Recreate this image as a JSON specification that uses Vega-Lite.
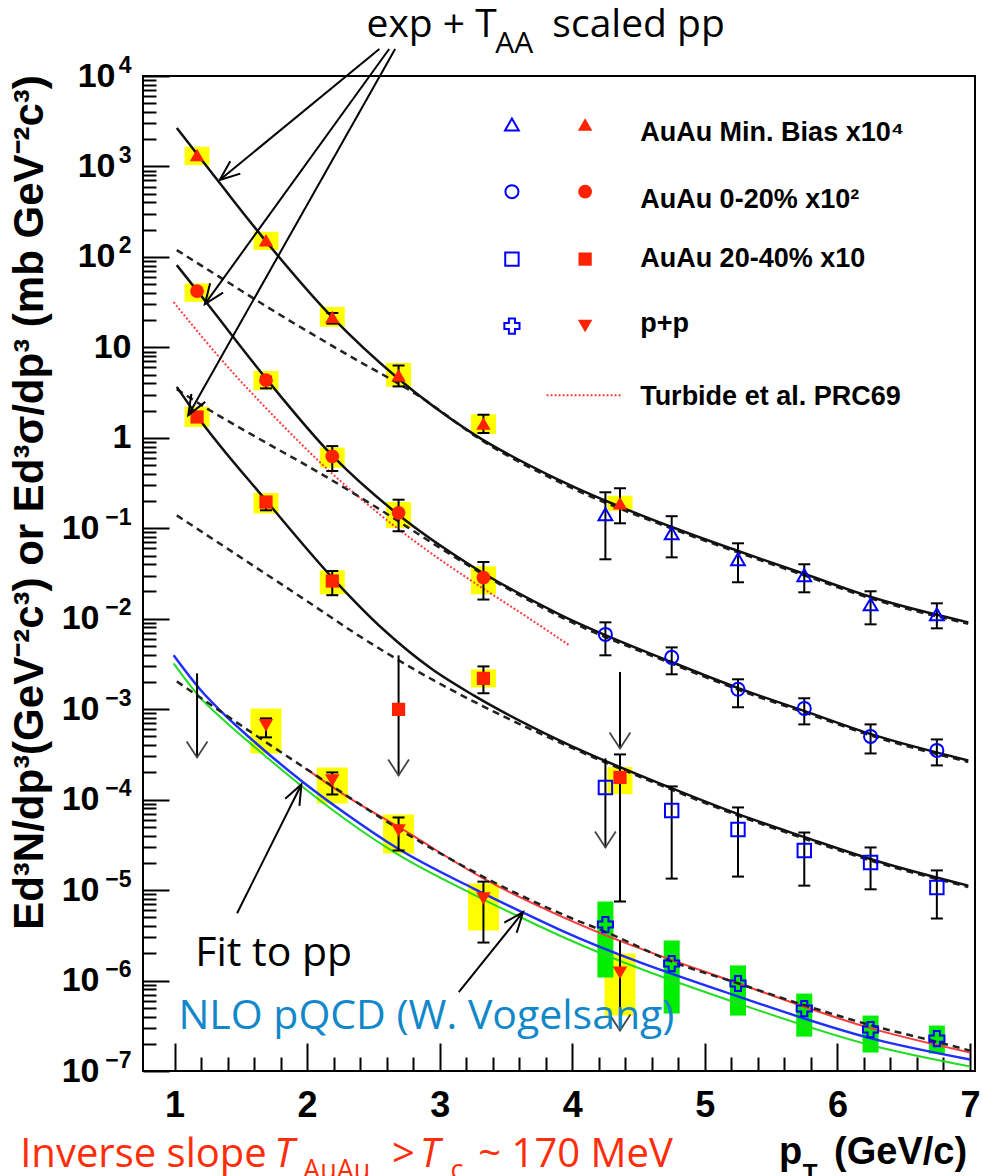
{
"$schema": "https://vega.github.io/schema/vega-lite/v6.json",
"width": 832, "height": 995,
"autosize": {"type": "none"},
"padding": {"left": 143, "top": 76, "right": 7, "bottom": 105},
"background": "#ffffff",
"config": {"view": {"stroke": "#000000", "strokeWidth": 2}, "point": {"opacity": 1}, "axis": {"grid": false}},
"datasets": {
"pts": [
{"s":"mb_red","x":1.17,"y":1337,"blo":1035,"bhi":1652},
{"s":"mb_red","x":1.69,"y":153,"blo":119,"bhi":190},
{"s":"mb_red","x":2.19,"y":21.7,"lo":18.3,"hi":24,"blo":16.9,"bhi":28},
{"s":"mb_red","x":2.69,"y":4.92,"lo":3.7,"hi":6.3,"blo":3.66,"bhi":6.73},
{"s":"mb_red","x":3.33,"y":1.44,"lo":1.13,"hi":1.8,"blo":1.1,"bhi":1.82},
{"s":"mb_red","x":4.36,"y":0.189,"lo":0.1135,"hi":0.277,"blo":0.156,"bhi":0.229},
{"s":"mb_blue","x":4.25,"y":0.143,"lo":0.0454,"hi":0.25},
{"s":"mb_blue","x":4.75,"y":0.0881,"lo":0.0477,"hi":0.136},
{"s":"mb_blue","x":5.25,"y":0.0454,"lo":0.0253,"hi":0.0682},
{"s":"mb_blue","x":5.75,"y":0.0302,"lo":0.0196,"hi":0.04},
{"s":"mb_blue","x":6.25,"y":0.0144,"lo":0.00867,"hi":0.0201},
{"s":"mb_blue","x":6.75,"y":0.0112,"lo":0.00783,"hi":0.0148},
{"s":"c_red","x":1.17,"y":41.9,"blo":31.9,"bhi":50.9},
{"s":"c_red","x":1.69,"y":4.34,"lo":3.52,"hi":4.73,"blo":3.37,"bhi":5.49},
{"s":"c_red","x":2.19,"y":0.625,"lo":0.43,"hi":0.81,"blo":0.469,"bhi":0.78},
{"s":"c_red","x":2.69,"y":0.148,"lo":0.0927,"hi":0.207,"blo":0.101,"bhi":0.195},
{"s":"c_red","x":3.33,"y":0.0284,"lo":0.0163,"hi":0.0424,"blo":0.0186,"bhi":0.038},
{"s":"c_blue","x":4.25,"y":0.00671,"lo":0.00394,"hi":0.00912},
{"s":"c_blue","x":4.75,"y":0.00374,"lo":0.00243,"hi":0.00482},
{"s":"c_blue","x":5.25,"y":0.00166,"lo":0.00105,"hi":0.00214},
{"s":"c_blue","x":5.75,"y":0.00102,"lo":0.000679,"hi":0.00132},
{"s":"c_blue","x":6.25,"y":0.0005,"lo":0.000324,"hi":0.000679},
{"s":"c_blue","x":6.75,"y":0.00035,"lo":0.000239,"hi":0.000463},
{"s":"s_red","x":1.17,"y":1.7,"blo":1.32,"bhi":2.2},
{"s":"s_red","x":1.69,"y":0.195,"lo":0.158,"hi":0.222,"blo":0.146,"bhi":0.246},
{"s":"s_red","x":2.19,"y":0.0261,"lo":0.0182,"hi":0.0337,"blo":0.0186,"bhi":0.0343},
{"s":"s_red","x":2.69,"y":0.000995},
{"s":"s_red","x":3.33,"y":0.00219,"lo":0.0015,"hi":0.00297,"blo":0.00174,"bhi":0.00275},
{"s":"s_red","x":4.36,"y":0.000176,"lo":7.48e-6,"hi":0.000316,"blo":0.000115,"bhi":0.000229},
{"s":"s_blue","x":4.25,"y":0.000136},
{"s":"s_blue","x":4.75,"y":7.6e-5,"lo":1.34e-5,"hi":0.00014},
{"s":"s_blue","x":5.25,"y":4.68e-5,"lo":1.41e-5,"hi":8.2e-5},
{"s":"s_blue","x":5.75,"y":2.74e-5,"lo":1.12e-5,"hi":4.33e-5},
{"s":"s_blue","x":6.25,"y":2.02e-5,"lo":1.02e-5,"hi":2.96e-5},
{"s":"s_blue","x":6.75,"y":1.07e-5,"lo":4.85e-6,"hi":1.65e-5},
{"s":"pp_red","x":1.69,"y":0.000662,"lo":0.000488,"hi":0.000791,"blo":0.000324,"bhi":0.00102},
{"s":"pp_red","x":2.19,"y":0.000163,"lo":0.000114,"hi":0.0002,"blo":9.08e-5,"bhi":0.000227},
{"s":"pp_red","x":2.69,"y":4.56e-5,"lo":2.74e-5,"hi":6.35e-5,"blo":2.54e-5,"bhi":6.86e-5},
{"s":"pp_red","x":3.33,"y":8.07e-6,"lo":2.63e-6,"hi":1.24e-5,"blo":3.57e-6,"bhi":1.18e-5},
{"s":"pp_red","x":4.36,"y":1.22e-6,"blo":4.1e-7,"bhi":1.99e-6},
{"s":"pp_blue","x":4.25,"y":4.16e-6,"blo":1.08e-6,"bhi":7.48e-6},
{"s":"pp_blue","x":4.75,"y":1.54e-6,"blo":4.32e-7,"bhi":2.77e-6},
{"s":"pp_blue","x":5.25,"y":9.27e-7,"blo":4.1e-7,"bhi":1.47e-6},
{"s":"pp_blue","x":5.75,"y":4.9e-7,"blo":2.4e-7,"bhi":7.18e-7},
{"s":"pp_blue","x":6.25,"y":2.87e-7,"blo":1.6e-7,"bhi":4.1e-7},
{"s":"pp_blue","x":6.75,"y":2.28e-7,"blo":1.56e-7,"bhi":3.18e-7},
{"s":"mb_blue","x":3.545,"y":2912},
{"s":"mb_red","x":4.097,"y":2912},
{"s":"c_blue","x":3.545,"y":526},
{"s":"c_red","x":4.097,"y":526},
{"s":"s_blue","x":3.545,"y":94.6},
{"s":"s_red","x":4.097,"y":94.6},
{"s":"pp_blue","x":3.545,"y":17.2},
{"s":"pp_red","x":4.097,"y":17.2}
],
"lim": [
{"x":1.17,"top":0.00249,"tip":0.000293},
{"x":2.69,"top":0.00394,"tip":0.000185},
{"x":4.36,"top":0.00258,"tip":0.000368},
{"x":4.25,"top":0.000286,"tip":2.96e-5},
{"x":4.36,"top":2.77e-6,"tip":2.8e-7}
],
"cur": [
{"c":"mb_fit","x":1.017,"y":2661},{"c":"mb_fit","x":1.341,"y":655},{"c":"mb_fit","x":1.664,"y":165.5},{"c":"mb_fit","x":2.187,"y":21.7},{"c":"mb_fit","x":2.684,"y":4.56},{"c":"mb_fit","x":3.256,"y":1.1},{"c":"mb_fit","x":3.903,"y":0.34},{"c":"mb_fit","x":4.754,"y":0.1026},{"c":"mb_fit","x":5.257,"y":0.0557},{"c":"mb_fit","x":5.759,"y":0.031},{"c":"mb_fit","x":6.26,"y":0.01725},{"c":"mb_fit","x":6.987,"y":0.00912},
{"c":"c_fit","x":1.017,"y":81.1},{"c":"c_fit","x":1.229,"y":32.9},{"c":"c_fit","x":1.689,"y":4.56},{"c":"c_fit","x":2.187,"y":0.643},{"c":"c_fit","x":2.684,"y":0.143},{"c":"c_fit","x":3.256,"y":0.0371},{"c":"c_fit","x":3.903,"y":0.0112},{"c":"c_fit","x":4.754,"y":0.0033},{"c":"c_fit","x":5.257,"y":0.0017},{"c":"c_fit","x":5.759,"y":0.000946},{"c":"c_fit","x":6.26,"y":0.000526},{"c":"c_fit","x":6.987,"y":0.000271},
{"c":"s_fit","x":1.017,"y":3.66},{"c":"s_fit","x":1.166,"y":1.78},{"c":"s_fit","x":1.689,"y":0.204},{"c":"s_fit","x":2.187,"y":0.0287},{"c":"s_fit","x":2.582,"y":0.00745},{"c":"s_fit","x":2.933,"y":0.00283},{"c":"s_fit","x":3.256,"y":0.00142},{"c":"s_fit","x":3.903,"y":0.000452},{"c":"s_fit","x":4.754,"y":0.000133},{"c":"s_fit","x":5.257,"y":6.86e-5},{"c":"s_fit","x":5.759,"y":3.82e-5},{"c":"s_fit","x":6.26,"y":2.18e-5},{"c":"s_fit","x":6.987,"y":1.12e-5},
{"c":"mb_taa","x":1.017,"y":119},{"c":"mb_taa","x":1.341,"y":59.8},{"c":"mb_taa","x":1.838,"y":21},{"c":"mb_taa","x":2.336,"y":7.8},{"c":"mb_taa","x":2.834,"y":2.96},{"c":"mb_taa","x":3.331,"y":0.912},{"c":"mb_taa","x":3.903,"y":0.323},{"c":"mb_taa","x":4.754,"y":0.0987},{"c":"mb_taa","x":5.257,"y":0.0536},{"c":"mb_taa","x":5.759,"y":0.0298},{"c":"mb_taa","x":6.26,"y":0.0166},{"c":"mb_taa","x":6.987,"y":0.00879},
{"c":"c_taa","x":1.017,"y":3.45},{"c":"c_taa","x":1.266,"y":2.02},{"c":"c_taa","x":1.59,"y":1.07},{"c":"c_taa","x":2.112,"y":0.395},{"c":"c_taa","x":2.51,"y":0.175},{"c":"c_taa","x":3.007,"y":0.0601},{"c":"c_taa","x":3.455,"y":0.024},{"c":"c_taa","x":3.903,"y":0.01063},{"c":"c_taa","x":4.754,"y":0.00317},{"c":"c_taa","x":5.257,"y":0.00163},{"c":"c_taa","x":5.759,"y":0.00091},{"c":"c_taa","x":6.26,"y":0.000507},{"c":"c_taa","x":6.987,"y":0.000261},
{"c":"s_taa","x":1.017,"y":0.139},{"c":"s_taa","x":1.515,"y":0.046},{"c":"s_taa","x":2.012,"y":0.0152},{"c":"s_taa","x":2.386,"y":0.00655},{"c":"s_taa","x":2.834,"y":0.00262},{"c":"s_taa","x":3.331,"y":0.00107},{"c":"s_taa","x":3.903,"y":0.00043},{"c":"s_taa","x":4.754,"y":0.000128},{"c":"s_taa","x":5.257,"y":6.6e-5},{"c":"s_taa","x":5.759,"y":3.67e-5},{"c":"s_taa","x":6.26,"y":2.1e-5},{"c":"s_taa","x":6.987,"y":1.08e-5},
{"c":"pp_fit","x":1.017,"y":0.00203},{"c":"pp_fit","x":1.59,"y":0.000541},{"c":"pp_fit","x":1.987,"y":0.000222},{"c":"pp_fit","x":2.784,"y":3.92e-5},{"c":"pp_fit","x":3.58,"y":9.18e-6},{"c":"pp_fit","x":4.0,"y":4.85e-6},{"c":"pp_fit","x":4.246,"y":3.48e-6},{"c":"pp_fit","x":4.754,"y":1.62e-6},{"c":"pp_fit","x":5.254,"y":9.27e-7},{"c":"pp_fit","x":5.759,"y":5.29e-7},{"c":"pp_fit","x":6.261,"y":3.18e-7},{"c":"pp_fit","x":6.744,"y":2.11e-7},{"c":"pp_fit","x":7.0,"y":1.68e-7},
{"c":"nlo_b","x":0.993,"y":0.00394},{"c":"nlo_b","x":1.192,"y":0.00166},{"c":"nlo_b","x":1.39,"y":0.000832},{"c":"nlo_b","x":1.59,"y":0.000452},{"c":"nlo_b","x":1.963,"y":0.000159},{"c":"nlo_b","x":2.311,"y":6.68e-5},{"c":"nlo_b","x":2.684,"y":2.88e-5},{"c":"nlo_b","x":3.256,"y":1.04e-5},{"c":"nlo_b","x":3.629,"y":5.65e-6},{"c":"nlo_b","x":3.903,"y":3.66e-6},{"c":"nlo_b","x":5.254,"y":6.65e-7},{"c":"nlo_b","x":6.261,"y":2.28e-7},{"c":"nlo_b","x":7.0,"y":1.34e-7},
{"c":"nlo_g","x":0.993,"y":0.00321},{"c":"nlo_g","x":1.192,"y":0.00135},{"c":"nlo_g","x":1.39,"y":0.000714},{"c":"nlo_g","x":1.59,"y":0.000398},{"c":"nlo_g","x":1.963,"y":0.00014},{"c":"nlo_g","x":2.311,"y":5.74e-5},{"c":"nlo_g","x":2.684,"y":2.48e-5},{"c":"nlo_g","x":3.256,"y":8.93e-6},{"c":"nlo_g","x":3.629,"y":4.85e-6},{"c":"nlo_g","x":3.903,"y":3.15e-6},{"c":"nlo_g","x":5.254,"y":5.57e-7},{"c":"nlo_g","x":6.261,"y":1.91e-7},{"c":"nlo_g","x":7.0,"y":1.12e-7},
{"c":"nlo_r","x":1.987,"y":0.000222},{"c":"nlo_r","x":2.311,"y":0.000106},{"c":"nlo_r","x":2.684,"y":5.05e-5},{"c":"nlo_r","x":3.356,"y":1.28e-5},{"c":"nlo_r","x":3.903,"y":5.23e-6},{"c":"nlo_r","x":5.254,"y":9.27e-7},{"c":"nlo_r","x":6.261,"y":2.94e-7},{"c":"nlo_r","x":7.0,"y":1.6e-7},
{"c":"turb","x":0.993,"y":31.6},{"c":"turb","x":1.39,"y":6.35},{"c":"turb","x":1.763,"y":1.65},{"c":"turb","x":2.137,"y":0.473},{"c":"turb","x":2.51,"y":0.158},{"c":"turb","x":2.883,"y":0.0601},{"c":"turb","x":3.256,"y":0.0253},{"c":"turb","x":3.604,"y":0.0118},{"c":"turb","x":3.978,"y":0.00508},
{"c":"turb_leg","x":3.806,"y":2.96},{"c":"turb_leg","x":4.373,"y":2.96}
],
"arr": [
{"id":"a1","x":2.545,"y":19900,"x2":1.341,"y2":708},
{"id":"a2","x":2.619,"y":19900,"x2":1.229,"y2":30.1},
{"id":"a3","x":2.664,"y":19900,"x2":1.104,"y2":1.78},
{"id":"afit","x":1.472,"y":5.55e-6,"x2":1.957,"y2":0.000147},
{"id":"anlo","x":3.144,"y":7.43e-7,"x2":3.629,"y2":5.7e-6}
],
"txt": [
{"g":"leg","t":"AuAu Min. Bias x10⁴","x":4.512,"y":1910},
{"g":"leg","t":"AuAu 0-20% x10²","x":4.512,"y":349},
{"g":"leg","t":"AuAu 20-40% x10","x":4.512,"y":77.1},
{"g":"leg","t":"p+p","x":4.512,"y":14.7},
{"g":"leg","t":"Turbide et al. PRC69","x":4.512,"y":2.3},
{"g":"big","t":"exp + T","x":2.448,"y":26980},
{"g":"sub","t":"AA","x":3.42,"y":17950},
{"g":"big","t":"scaled pp","x":3.85,"y":26980},
{"g":"fit","t":"Fit to pp","x":1.157,"y":1.466e-6},
{"g":"nlo","t":"NLO pQCD (W. Vogelsang)","x":1.03,"y":2.94e-7},
{"g":"red","t":"Inverse slope","x":-0.164,"y":8.75e-9},
{"g":"redi","t":"T","x":1.753,"y":8.75e-9},
{"g":"reds","t":"AuAu","x":1.97,"y":6.45e-9},
{"g":"red","t":">","x":2.64,"y":8.75e-9},
{"g":"redi","t":"T","x":2.85,"y":8.75e-9},
{"g":"reds","t":"c","x":3.082,"y":6.45e-9},
{"g":"red","t":"~ 170 MeV","x":3.291,"y":8.75e-9},
{"g":"ax","t":"p","x":5.56,"y":9.44e-9},
{"g":"axs","t":"T","x":5.739,"y":6.14e-9},
{"g":"axr","t":"(GeV/c)","x":6.978,"y":9.44e-9}
]
},
"encoding": {
"x": {"field": "x", "type": "quantitative", "scale": {"domain": [0.8, 7], "nice": false, "zero": false}, "axis": null},
"y": {"field": "y", "type": "quantitative", "scale": {"type": "log", "domain": [1e-7, 10000], "nice": false}, "axis": null}
},
"resolve": {"axis": {"x": "independent", "y": "independent"}},
"layer": [
{"data": {"name": "pts"},
 "transform": [{"filter": "isValid(datum.blo) && (datum.s=='mb_red' || datum.s=='c_red' || datum.s=='s_red')"}],
 "mark": {"type": "bar", "size": 25, "color": "#ffff00"},
 "encoding": {
  "x": {"field": "x", "type": "quantitative", "scale": {"domain": [0.8, 7], "nice": false, "zero": false},
        "axis": {"orient": "bottom", "values": [1,2,3,4,5,6,7], "format": "d", "ticks": false, "domain": false, "labelFont": "Liberation Sans", "labelFontWeight": "bold", "labelFontSize": 36, "labelColor": "#000000", "labelPadding": 17, "labelFlush": false, "labelOverlap": false, "grid": false, "title": null}},
  "y": {"field": "blo", "type": "quantitative", "scale": {"type": "log", "domain": [1e-7, 10000], "nice": false},
        "axis": {"orient": "left", "values": [1e-7,1e-6,1e-5,0.0001,0.001,0.01,0.1],
                 "labelExpr": "'10'",
                 "ticks": false, "domain": false, "labelFont": "Liberation Sans", "labelFontWeight": "bold", "labelFontSize": 34, "labelColor": "#000000", "labelPadding": 44, "labelFlush": false, "labelOverlap": false, "labelBaseline": "middle", "grid": false,
                 "title": "Ed³N/dp³(GeV⁻²c³) or Ed³σ/dp³ (mb GeV⁻²c³)", "titleFont": "Liberation Sans", "titleFontWeight": "bold", "titleFontSize": 42, "titleColor": "#000000", "titleX": -114, "titleY": 426, "titleAngle": 270, "titleAlign": "center", "titleBaseline": "middle"}},
  "y2": {"field": "bhi"}
 }},
{"data": {"name": "pts"},
 "transform": [{"filter": "isValid(datum.blo) && datum.s=='pp_red'"}],
 "mark": {"type": "bar", "size": 31, "color": "#ffff00"},
 "encoding": {"y": {"field": "blo", "type": "quantitative",
   "axis": {"orient": "left", "values": [100,1000,10000], "labelExpr": "'10'", "ticks": false, "domain": false, "labelFont": "Liberation Sans", "labelFontWeight": "bold", "labelFontSize": 34, "labelColor": "#000000", "labelPadding": 28, "labelFlush": false, "labelOverlap": false, "labelBaseline": "middle", "grid": false, "title": null}},
  "y2": {"field": "bhi"}}},
{"data": {"name": "pts"},
 "transform": [{"filter": "isValid(datum.blo) && datum.s=='pp_blue'"}],
 "mark": {"type": "bar", "size": 16, "color": "#00ee00"},
 "encoding": {
  "x": {"field": "x", "type": "quantitative",
        "axis": {"orient": "top", "offset": -995, "values": [1,1.2,1.4,1.6,1.8,2,2.2,2.4,2.6,2.8,3,3.2,3.4,3.6,3.8,4,4.2,4.4,4.6,4.8,5,5.2,5.4,5.6,5.8,6,6.2,6.4,6.6,6.8,7], "labels": false, "domain": false, "ticks": true, "tickColor": "#000000", "tickWidth": 2, "tickSize": {"condition": {"test": "abs(datum.value - round(datum.value)) < 0.01", "value": 28}, "value": 14}, "grid": false, "title": null}},
  "y": {"field": "blo", "type": "quantitative",
        "axis": {"orient": "right", "offset": -832, "values": [1e-7,2e-7,3e-7,4e-7,5e-7,6e-7,7e-7,8e-7,9e-7,1e-6,2e-6,3e-6,4e-6,5e-6,6e-6,7e-6,8e-6,9e-6,1e-5,2e-5,3e-5,4e-5,5e-5,6e-5,7e-5,8e-5,9e-5,0.0001,0.0002,0.0003,0.0004,0.0005,0.0006,0.0007,0.0008,0.0009,0.001,0.002,0.003,0.004,0.005,0.006,0.007,0.008,0.009,0.01,0.02,0.03,0.04,0.05,0.06,0.07,0.08,0.09,0.1,0.2,0.3,0.4,0.5,0.6,0.7,0.8,0.9,1,2,3,4,5,6,7,8,9,10,20,30,40,50,60,70,80,90,100,200,300,400,500,600,700,800,900,1000,2000,3000,4000,5000,6000,7000,8000,9000,10000],
                 "labels": false, "domain": false, "ticks": true, "tickColor": "#000000", "tickWidth": 2, "tickSize": {"condition": {"test": "abs(log(datum.value)/LN10 - round(log(datum.value)/LN10)) < 0.001", "value": 26}, "value": 13}, "grid": false, "title": null}},
  "y2": {"field": "bhi"}
 }},
{"data": {"name": "cur"}, "transform": [{"filter": "datum.c=='nlo_g'"}],
 "mark": {"type": "line", "color": "#22dd22", "strokeWidth": 2, "interpolate": "monotone"},
 "encoding": {"y": {"field": "y", "type": "quantitative",
   "axis": {"orient": "left", "values": [1,10], "labelExpr": "round(log(datum.value)/LN10) == 0 ? '1' : '10'", "ticks": false, "domain": false, "labelFont": "Liberation Sans", "labelFontWeight": "bold", "labelFontSize": 34, "labelColor": "#000000", "labelPadding": 12, "labelFlush": false, "labelOverlap": false, "labelBaseline": "middle", "grid": false, "title": null}}}},
{"data": {"name": "cur"}, "transform": [{"filter": "datum.c=='nlo_b'"}],
 "mark": {"type": "line", "color": "#1f2fff", "strokeWidth": 2.5, "interpolate": "monotone"},
 "encoding": {"y": {"field": "y", "type": "quantitative",
   "axis": {"orient": "left", "values": [1e-7,1e-6,1e-5,0.0001,0.001,0.01,0.1,100,1000,10000], "labelExpr": "['−7','−6','−5','−4','−3','−2','−1','','','2','3','4'][round(log(datum.value)/LN10)+7]", "ticks": false, "domain": false, "labelFont": "Liberation Sans", "labelFontWeight": "bold", "labelFontSize": 23, "labelColor": "#000000", "labelPadding": 12, "labelOffset": -11, "labelFlush": false, "labelOverlap": false, "labelBaseline": "middle", "grid": false, "title": null}}}},
{"data": {"name": "cur"}, "transform": [{"filter": "datum.c=='nlo_r'"}],
 "mark": {"type": "line", "color": "#ff3a3a", "strokeWidth": 2, "interpolate": "monotone"}, "encoding": {}},
{"data": {"name": "cur"}, "transform": [{"filter": "datum.c=='turb' || datum.c=='turb_leg'"}],
 "mark": {"type": "line", "color": "#ff3b3b", "strokeWidth": 2, "strokeDash": [2, 2], "interpolate": "monotone"},
 "encoding": {"detail": {"field": "c"}}},
{"data": {"name": "cur"}, "transform": [{"filter": "datum.c=='mb_taa' || datum.c=='c_taa' || datum.c=='s_taa' || datum.c=='pp_fit'"}],
 "mark": {"type": "line", "color": "#222222", "strokeWidth": 2.5, "strokeDash": [7, 5], "interpolate": "monotone"},
 "encoding": {"detail": {"field": "c"}}},
{"data": {"name": "cur"}, "transform": [{"filter": "datum.c=='mb_fit' || datum.c=='c_fit' || datum.c=='s_fit'"}],
 "mark": {"type": "line", "color": "#111111", "strokeWidth": 2.5, "interpolate": "monotone"},
 "encoding": {"detail": {"field": "c"}}},
{"data": {"name": "pts"}, "transform": [{"filter": "isValid(datum.lo)"}],
 "mark": {"type": "rule", "color": "#000000", "strokeWidth": 2},
 "encoding": {"y": {"field": "lo", "type": "quantitative", "axis": null}, "y2": {"field": "hi"}}},
{"data": {"name": "pts"}, "transform": [{"filter": "isValid(datum.lo)"}],
 "mark": {"type": "point", "shape": "stroke", "filled": false, "color": "#000000", "strokeWidth": 2, "size": 144, "opacity": 1},
 "encoding": {"y": {"field": "lo", "type": "quantitative", "axis": null}}},
{"data": {"name": "pts"}, "transform": [{"filter": "isValid(datum.lo)"}],
 "mark": {"type": "point", "shape": "stroke", "filled": false, "color": "#000000", "strokeWidth": 2, "size": 144, "opacity": 1},
 "encoding": {"y": {"field": "hi", "type": "quantitative", "axis": null}}},
{"data": {"name": "lim"},
 "mark": {"type": "rule", "color": "#000000", "strokeWidth": 2},
 "encoding": {"y": {"field": "top", "type": "quantitative", "axis": null}, "y2": {"field": "tip"}}},
{"data": {"name": "lim"},
 "mark": {"type": "point", "shape": "M -0.65 1 L 0 0 L 0.65 1", "filled": false, "color": "#444444", "strokeWidth": 1.8, "size": 1024, "angle": 180, "opacity": 1},
 "encoding": {"y": {"field": "tip", "type": "quantitative", "axis": null}}},
{"data": {"name": "pts"}, "transform": [{"filter": "datum.s=='mb_red'"}],
 "mark": {"type": "point", "shape": "triangle-up", "filled": true, "color": "#ff2200", "size": 210, "opacity": 1}, "encoding": {}},
{"data": {"name": "pts"}, "transform": [{"filter": "datum.s=='c_red'"}],
 "mark": {"type": "point", "shape": "circle", "filled": true, "color": "#ff2200", "size": 190, "opacity": 1}, "encoding": {}},
{"data": {"name": "pts"}, "transform": [{"filter": "datum.s=='s_red'"}],
 "mark": {"type": "point", "shape": "square", "filled": true, "color": "#ff2200", "size": 175, "opacity": 1}, "encoding": {}},
{"data": {"name": "pts"}, "transform": [{"filter": "datum.s=='pp_red'"}],
 "mark": {"type": "point", "shape": "triangle-down", "filled": true, "color": "#ff2200", "size": 210, "opacity": 1}, "encoding": {}},
{"data": {"name": "pts"}, "transform": [{"filter": "datum.s=='mb_blue'"}],
 "mark": {"type": "point", "shape": "triangle-up", "filled": false, "color": "#0000ff", "strokeWidth": 2, "size": 190, "opacity": 1}, "encoding": {}},
{"data": {"name": "pts"}, "transform": [{"filter": "datum.s=='c_blue'"}],
 "mark": {"type": "point", "shape": "circle", "filled": false, "color": "#0000ff", "strokeWidth": 2, "size": 170, "opacity": 1}, "encoding": {}},
{"data": {"name": "pts"}, "transform": [{"filter": "datum.s=='s_blue'"}],
 "mark": {"type": "point", "shape": "square", "filled": false, "color": "#0000ff", "strokeWidth": 2, "size": 180, "opacity": 1}, "encoding": {}},
{"data": {"name": "pts"}, "transform": [{"filter": "datum.s=='pp_blue'"}],
 "mark": {"type": "point", "shape": "cross", "filled": false, "color": "#0000ff", "strokeWidth": 2, "size": 230, "opacity": 1}, "encoding": {}},
{"data": {"name": "arr"},
 "mark": {"type": "rule", "color": "#000000", "strokeWidth": 2},
 "encoding": {"x2": {"field": "x2"}, "y2": {"field": "y2"}}},
{"data": {"name": "arr"}, "transform": [{"filter": "datum.id=='a1'"}],
 "mark": {"type": "point", "shape": "M -0.4 1 L 0 0 L 0.4 1", "filled": false, "color": "#000000", "strokeWidth": 2, "size": 1600, "angle": 231, "opacity": 1},
 "encoding": {"x": {"field": "x2", "type": "quantitative", "axis": null}, "y": {"field": "y2", "type": "quantitative", "axis": null}}},
{"data": {"name": "arr"}, "transform": [{"filter": "datum.id=='a2'"}],
 "mark": {"type": "point", "shape": "M -0.4 1 L 0 0 L 0.4 1", "filled": false, "color": "#000000", "strokeWidth": 2, "size": 1600, "angle": 216, "opacity": 1},
 "encoding": {"x": {"field": "x2", "type": "quantitative", "axis": null}, "y": {"field": "y2", "type": "quantitative", "axis": null}}},
{"data": {"name": "arr"}, "transform": [{"filter": "datum.id=='a3'"}],
 "mark": {"type": "point", "shape": "M -0.4 1 L 0 0 L 0.4 1", "filled": false, "color": "#000000", "strokeWidth": 2, "size": 1600, "angle": 210, "opacity": 1},
 "encoding": {"x": {"field": "x2", "type": "quantitative", "axis": null}, "y": {"field": "y2", "type": "quantitative", "axis": null}}},
{"data": {"name": "arr"}, "transform": [{"filter": "datum.id=='afit'"}],
 "mark": {"type": "point", "shape": "M -0.4 1 L 0 0 L 0.4 1", "filled": false, "color": "#000000", "strokeWidth": 2, "size": 1600, "angle": 27, "opacity": 1},
 "encoding": {"x": {"field": "x2", "type": "quantitative", "axis": null}, "y": {"field": "y2", "type": "quantitative", "axis": null}}},
{"data": {"name": "arr"}, "transform": [{"filter": "datum.id=='anlo'"}],
 "mark": {"type": "point", "shape": "M -0.4 1 L 0 0 L 0.4 1", "filled": false, "color": "#000000", "strokeWidth": 2, "size": 1600, "angle": 39, "opacity": 1},
 "encoding": {"x": {"field": "x2", "type": "quantitative", "axis": null}, "y": {"field": "y2", "type": "quantitative", "axis": null}}},
{"data": {"name": "txt"}, "transform": [{"filter": "datum.g=='leg'"}],
 "mark": {"type": "text", "font": "Liberation Sans", "fontWeight": "bold", "fontSize": 27, "align": "left", "baseline": "alphabetic", "color": "#000000"},
 "encoding": {"text": {"field": "t"}}},
{"data": {"name": "txt"}, "transform": [{"filter": "datum.g=='big'"}],
 "mark": {"type": "text", "font": "Open Sans", "fontSize": 39, "align": "left", "baseline": "alphabetic", "color": "#000000"},
 "encoding": {"text": {"field": "t"}}},
{"data": {"name": "txt"}, "transform": [{"filter": "datum.g=='sub'"}],
 "mark": {"type": "text", "font": "Open Sans", "fontSize": 30, "align": "left", "baseline": "alphabetic", "color": "#000000"},
 "encoding": {"text": {"field": "t"}}},
{"data": {"name": "txt"}, "transform": [{"filter": "datum.g=='fit'"}],
 "mark": {"type": "text", "font": "Open Sans", "fontSize": 41, "align": "left", "baseline": "alphabetic", "color": "#000000"},
 "encoding": {"text": {"field": "t"}}},
{"data": {"name": "txt"}, "transform": [{"filter": "datum.g=='nlo'"}],
 "mark": {"type": "text", "font": "Open Sans", "fontSize": 41, "align": "left", "baseline": "alphabetic", "color": "#1287c9"},
 "encoding": {"text": {"field": "t"}}},
{"data": {"name": "txt"}, "transform": [{"filter": "datum.g=='red'"}],
 "mark": {"type": "text", "font": "Open Sans", "fontSize": 40, "align": "left", "baseline": "alphabetic", "color": "#ff2d0a"},
 "encoding": {"text": {"field": "t"}}},
{"data": {"name": "txt"}, "transform": [{"filter": "datum.g=='redi'"}],
 "mark": {"type": "text", "font": "Open Sans", "fontStyle": "italic", "fontSize": 40, "align": "left", "baseline": "alphabetic", "color": "#ff2d0a"},
 "encoding": {"text": {"field": "t"}}},
{"data": {"name": "txt"}, "transform": [{"filter": "datum.g=='reds'"}],
 "mark": {"type": "text", "font": "Open Sans", "fontSize": 27, "align": "left", "baseline": "alphabetic", "color": "#ff2d0a"},
 "encoding": {"text": {"field": "t"}}},
{"data": {"name": "txt"}, "transform": [{"filter": "datum.g=='ax'"}],
 "mark": {"type": "text", "font": "Liberation Sans", "fontWeight": "bold", "fontSize": 38, "align": "left", "baseline": "alphabetic", "color": "#000000"},
 "encoding": {"text": {"field": "t"}}},
{"data": {"name": "txt"}, "transform": [{"filter": "datum.g=='axs'"}],
 "mark": {"type": "text", "font": "Liberation Sans", "fontWeight": "bold", "fontSize": 24, "align": "left", "baseline": "alphabetic", "color": "#000000"},
 "encoding": {"text": {"field": "t"}}},
{"data": {"name": "txt"}, "transform": [{"filter": "datum.g=='axr'"}],
 "mark": {"type": "text", "font": "Liberation Sans", "fontWeight": "bold", "fontSize": 38, "align": "right", "baseline": "alphabetic", "color": "#000000"},
 "encoding": {"text": {"field": "t"}}}
]
}
